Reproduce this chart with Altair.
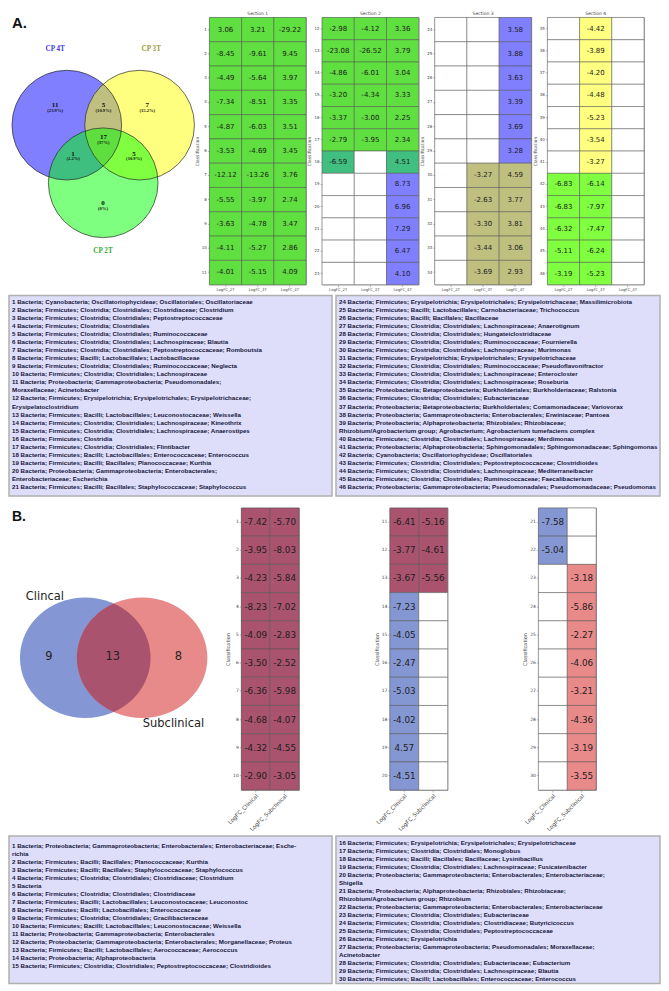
import math
import altair as alt
import pandas as pd

# ============================ DATA ============================
# ---- Panel A : Venn ----
venn_a_sets = ["CP 4T", "CP 3T", "CP 2T"]
venn_a_set_fill = ["#0000ff", "#ffff00", "#00ff00"]
venn_a_label_color = ["#4040e6", "#a09a38", "#36aa36"]
venn_a_regions = ["4T only", "4T & 3T", "3T only", "4T & 3T & 2T", "4T & 2T", "3T & 2T", "2T only"]
venn_a_counts = [11, 5, 7, 17, 1, 5, 0]
venn_a_pcts = ["(23.9%)", "(10.9%)", "(15.2%)", "(37%)", "(2.2%)", "(10.9%)", "(0%)"]

# ---- Panel A : heatmaps (rows 1..46) ----
a_cols = ["LogFC_2T", "LogFC_3T", "LogFC_4T"]
a_sections = ["Section 1", "Section 2", "Section 3", "Section 4"]
a_section_rows = [list(range(1, 12)), list(range(12, 24)), list(range(24, 35)), list(range(35, 47))]
N = None
a_2T = [3.06, -8.45, -4.49, -7.34, -4.87, -3.53, -12.12, -5.55, -3.63, -4.11, -4.01,
        -2.98, -23.08, -4.86, -3.20, -3.37, -2.79, -6.59, N, N, N, N, N,
        N, N, N, N, N, N, N, N, N, N, N,
        N, N, N, N, N, N, N, -6.83, -6.83, -6.32, -5.11, -3.19]
a_3T = [3.21, -9.61, -5.64, -8.51, -6.03, -4.69, -13.26, -3.97, -4.78, -5.27, -5.15,
        -4.12, -26.52, -6.01, -4.34, -3.00, -3.95, N, N, N, N, N, N,
        N, N, N, N, N, N, -3.27, -2.63, -3.30, -3.44, -3.69,
        -4.42, -3.89, -4.20, -4.48, -5.23, -3.54, -3.27, -6.14, -7.97, -7.47, -6.24, -5.23]
a_4T = [-29.22, 9.45, 3.97, 3.35, 3.51, 3.45, 3.76, 2.74, 3.47, 2.86, 4.09,
        3.36, 3.79, 3.04, 3.33, 2.25, 2.34, 4.51, 8.73, 6.96, 7.29, 6.47, 4.10,
        3.58, 3.88, 3.63, 3.39, 3.69, 3.28, 4.59, 3.77, 3.81, 3.06, 2.93,
        N, N, N, N, N, N, N, N, N, N, N, N]
# fill by membership pattern (2T, 3T, 4T present)
a_group_fill = {(1, 1, 1): "#60df40", (1, 0, 1): "#40bf80", (0, 0, 1): "#8080ff",
                (0, 1, 1): "#bfbf80", (0, 1, 0): "#ffff80", (1, 1, 0): "#80ff40"}

# ---- Panel B : Venn ----
venn_b_sets = ["Clincal", "Subclinical"]
venn_b_counts = [9, 13, 8]
venn_b_fill = ["#8497d4", "#e88a8a"]
venn_b_both_fill = "#a9536f"

# ---- Panel B : heatmaps (rows 1..30) ----
b_cols = ["LogFC_Clinical", "LogFC_Subclinical"]
b_section_rows = [list(range(1, 11)), list(range(11, 21)), list(range(21, 31))]
b_clin = [-7.42, -3.95, -4.23, -8.23, -4.09, -3.50, -6.36, -4.68, -4.32, -2.90,
          -6.41, -3.77, -3.67, -7.23, -4.05, -2.47, -5.03, -4.02, 4.57, -4.51,
          -7.58, -5.04, N, N, N, N, N, N, N, N]
b_sub = [-5.70, -8.03, -5.84, -7.02, -2.83, -2.52, -5.98, -4.07, -4.55, -3.05,
         -5.16, -4.61, -5.56, N, N, N, N, N, N, N,
         N, N, -3.18, -5.86, -2.27, -4.06, -3.21, -4.36, -3.19, -3.55]
b_group_fill = {(1, 1): "#a9536f", (1, 0): "#8597d3", (0, 1): "#e98a8a"}

# ---- Legend texts ("\n" marks where the reference wraps) ----
legend_a_left = [
    "1 Bacteria; Cyanobacteria; Oscillatoriophycideae; Oscillatoriales; Oscillatoriaceae",
    "2 Bacteria; Firmicutes; Clostridia; Clostridiales; Clostridiaceae; Clostridium",
    "3 Bacteria; Firmicutes; Clostridia; Clostridiales; Peptostreptococcaceae",
    "4 Bacteria; Firmicutes; Clostridia; Clostridiales",
    "5 Bacteria; Firmicutes; Clostridia; Clostridiales; Ruminococcaceae",
    "6 Bacteria; Firmicutes; Clostridia; Clostridiales; Lachnospiraceae; Blautia",
    "7 Bacteria; Firmicutes; Clostridia; Clostridiales; Peptostreptococcaceae; Romboutsia",
    "8 Bacteria; Firmicutes; Bacilli; Lactobacillales; Lactobacillaceae",
    "9 Bacteria; Firmicutes; Clostridia; Clostridiales; Ruminococcaceae; Neglecta",
    "10 Bacteria; Firmicutes; Clostridia; Clostridiales; Lachnospiraceae",
    "11 Bacteria; Proteobacteria; Gammaproteobacteria; Pseudomonadales;\n Moraxellaceae; Acinetobacter",
    "12 Bacteria; Firmicutes; Erysipelotrichia; Erysipelotrichales; Erysipelotrichaceae;\nErysipelatoclostridium",
    "13 Bacteria; Firmicutes; Bacilli; Lactobacillales; Leuconostocaceae; Weissella",
    "14 Bacteria; Firmicutes; Clostridia; Clostridiales; Lachnospiraceae; Kineothrix",
    "15 Bacteria; Firmicutes; Clostridia; Clostridiales; Lachnospiraceae; Anaerostipes",
    "16 Bacteria; Firmicutes; Clostridia",
    "17 Bacteria; Firmicutes; Clostridia; Clostridiales; Flintibacter",
    "18 Bacteria; Firmicutes; Bacilli; Lactobacillales; Enterococcaceae; Enterococcus",
    "19 Bacteria; Firmicutes; Bacilli; Bacillales; Planococcaceae; Kurthia",
    "20 Bacteria; Proteobacteria; Gammaproteobacteria; Enterobacterales;\nEnterobacteriaceae; Escherichia",
    "21 Bacteria; Firmicutes; Bacilli; Bacillales; Staphylococcaceae; Staphylococcus",
]
legend_a_right = [
    "24 Bacteria; Firmicutes; Erysipelotrichia; Erysipelotrichales; Erysipelotrichaceae; Massilimicrobiota",
    "25 Bacteria; Firmicutes; Bacilli; Lactobacillales; Carnobacteriaceae; Trichococcus",
    "26 Bacteria; Firmicutes; Bacilli; Bacillales; Bacillaceae",
    "27 Bacteria; Firmicutes; Clostridia; Clostridiales; Lachnospiraceae; Anaerotignum",
    "28 Bacteria; Firmicutes; Clostridia; Clostridiales; Hungateiclostridiaceae",
    "29 Bacteria; Firmicutes; Clostridia; Clostridiales; Ruminococcaceae; Fournierella",
    "30 Bacteria; Firmicutes; Clostridia; Clostridiales; Lachnospiraceae; Murimonas",
    "31 Bacteria; Firmicutes; Erysipelotrichia; Erysipelotrichales; Erysipelotrichaceae",
    "32 Bacteria; Firmicutes; Clostridia; Clostridiales; Ruminococcaceae; Pseudoflavonifractor",
    "33 Bacteria; Firmicutes; Clostridia; Clostridiales; Lachnospiraceae; Enterocloster",
    "34 Bacteria; Firmicutes; Clostridia; Clostridiales; Lachnospiraceae; Roseburia",
    "35 Bacteria; Proteobacteria; Betaproteobacteria; Burkholderiales; Burkholderiaceae; Ralstonia",
    "36 Bacteria; Firmicutes; Clostridia; Clostridiales; Eubacteriaceae",
    "37 Bacteria; Proteobacteria; Betaproteobacteria; Burkholderiales; Comamonadaceae; Variovorax",
    "38 Bacteria; Proteobacteria; Gammaproteobacteria; Enterobacterales; Erwiniaceae; Pantoea",
    "39 Bacteria; Proteobacteria; Alphaproteobacteria; Rhizobiales; Rhizobiaceae;\nRhizobium/Agrobacterium group; Agrobacterium; Agrobacterium tumefaciens complex",
    "40 Bacteria; Firmicutes; Clostridia; Clostridiales; Lachnospiraceae; Merdimonas",
    "41 Bacteria; Proteobacteria; Alphaproteobacteria; Sphingomonadales; Sphingomonadaceae; Sphingomonas",
    "42 Bacteria; Cyanobacteria; Oscillatoriophycideae; Oscillatoriales",
    "43 Bacteria; Firmicutes; Clostridia; Clostridiales; Peptostreptococcaceae; Clostridioides",
    "44 Bacteria; Firmicutes; Clostridia; Clostridiales; Lachnospiraceae; Mediterraneibacter",
    "45 Bacteria; Firmicutes; Clostridia; Clostridiales; Ruminococcaceae; Faecalibacterium",
    "46 Bacteria; Proteobacteria; Gammaproteobacteria; Pseudomonadales; Pseudomonadaceae; Pseudomonas",
]
legend_b_left = [
    "1 Bacteria; Proteobacteria; Gammaproteobacteria; Enterobacterales; Enterobacteriaceae; Esche-\nrichia",
    "2 Bacteria; Firmicutes; Bacilli; Bacillales; Planococcaceae; Kurthia",
    "3 Bacteria; Firmicutes; Bacilli; Bacillales; Staphylococcaceae; Staphylococcus",
    "4 Bacteria; Firmicutes; Clostridia; Clostridiales; Clostridiaceae; Clostridium",
    "5 Bacteria",
    "6 Bacteria; Firmicutes; Clostridia; Clostridiales; Clostridiaceae",
    "7 Bacteria; Firmicutes; Bacilli; Lactobacillales; Leuconostocaceae; Leuconostoc",
    "8 Bacteria; Firmicutes; Bacilli; Lactobacillales; Enterococcaceae",
    "9 Bacteria; Firmicutes; Clostridia; Clostridiales; Gracilibacteraceae",
    "10 Bacteria; Firmicutes; Bacilli; Lactobacillales; Leuconostocaceae; Weissella",
    "11 Bacteria; Proteobacteria; Gammaproteobacteria; Enterobacterales",
    "12 Bacteria; Proteobacteria; Gammaproteobacteria; Enterobacterales; Morganellaceae; Proteus",
    "13 Bacteria; Firmicutes; Bacilli; Lactobacillales; Aerococcaceae; Aerococcus",
    "14 Bacteria; Proteobacteria; Alphaproteobacteria",
    "15 Bacteria; Firmicutes; Clostridia; Clostridiales; Peptostreptococcaceae; Clostridioides",
]
legend_b_right = [
    "16 Bacteria; Firmicutes; Erysipelotrichia; Erysipelotrichales; Erysipelotrichaceae",
    "17 Bacteria; Firmicutes; Clostridia; Clostridiales; Monoglobus",
    "18 Bacteria; Firmicutes; Bacilli; Bacillales; Bacillaceae; Lysinibacillus",
    "19 Bacteria; Firmicutes; Clostridia; Clostridiales; Lachnospiraceae; Fusicatenibacter",
    "20 Bacteria; Proteobacteria; Gammaproteobacteria; Enterobacterales; Enterobacteriaceae;\nShigella",
    "21 Bacteria; Proteobacteria; Alphaproteobacteria; Rhizobiales; Rhizobiaceae;\nRhizobium/Agrobacterium group; Rhizobium",
    "22 Bacteria; Proteobacteria; Gammaproteobacteria; Enterobacterales; Enterobacteriaceae",
    "23 Bacteria; Firmicutes; Clostridia; Clostridiales; Eubacteriaceae",
    "24 Bacteria; Firmicutes; Clostridia; Clostridiales; Clostridiaceae; Butyricicoccus",
    "25 Bacteria; Firmicutes; Clostridia; Clostridiales; Peptostreptococcaceae",
    "26 Bacteria; Firmicutes; Erysipelotrichia",
    "27 Bacteria; Proteobacteria; Gammaproteobacteria; Pseudomonadales; Moraxellaceae;\nAcinetobacter",
    "28 Bacteria; Firmicutes; Clostridia; Clostridiales; Eubacteriaceae; Eubacterium",
    "29 Bacteria; Firmicutes; Clostridia; Clostridiales; Lachnospiraceae; Blautia",
    "30 Bacteria; Firmicutes; Bacilli; Lactobacillales; Enterococcaceae; Enterococcus",
]

# ============================ LAYOUT / STYLE ============================
F_NUM = "DejaVu Sans"
F_BOX = "Liberation Sans"
F_SERIF = "Liberation Serif"
BOX_FILL, BOX_STROKE, BOX_TEXT = "#dedefa", "#b0b0b0", "#16163a"

HA, SEC_W = 268, 97          # panel A heatmaps
HB, BSEC_W = 283, 58          # panel B heatmaps
VA_W, VB_W = 185, 142         # venn panel widths
BOXA_H, BOXB_H = 201, 148
BOX_LW, BOX_RW = 324, 325
BOX_FS = 6.2

# Venn A geometry (panel px)
VA_R = 55
va_cx = [58, 131, 94.5]
va_cy = [108, 108, 165.8]
va_label_xy = [(46.3, 31.8), (142.7, 31.8), (94.3, 234.3)]
va_region_xy = [(46.3, 88), (94.7, 88), (138.7, 88), (94.7, 120.2),
                (64.3, 136.6), (125.3, 136.6), (94.3, 186)]
# Venn B geometry (panel px): slightly elliptical sets
VB_RX, VB_RY = 65.5, 60.5
vb_cx = [76.5, 133.5]
vb_cy = 150.3
vb_label_xy = [(36, 89.5), (165, 216.5)]
vb_region_xy = [(40, 149.3), (104, 149.3), (170, 149.3)]


# ============================ BUILD ============================
def long_table(cols, series, group_fill):
    recs = []
    n = len(series[0])
    for i in range(n):
        pattern = tuple(int(s[i] is not None) for s in series)
        f = group_fill[pattern]
        for c, s in zip(cols, series):
            v = s[i]
            recs.append({"row": i + 1, "col": c, "value": v,
                         "fill": f if v is not None else "#ffffff"})
    return pd.DataFrame(recs)


dfA = long_table(a_cols, [a_2T, a_3T, a_4T], a_group_fill)
dfB = long_table(b_cols, [b_clin, b_sub], b_group_fill)


def yaxis(label_fs, title_fs):
    return alt.Axis(title="Classification", titleFontSize=title_fs, titleFontWeight="normal",
                    titleColor="#444", titleFont=F_NUM, titlePadding=2,
                    labelFontSize=label_fs, labelColor="#444", labelFont=F_NUM, labelPadding=1,
                    labelAngle=0, tickSize=2, tickWidth=0.5, tickColor="#777", domain=False)


def xaxis(label_fs, angle):
    return alt.Axis(title=None, labelFontSize=label_fs, labelColor="#444", labelFont=F_NUM,
                    labelPadding=1, labelAngle=angle, tickSize=2, tickWidth=0.5,
                    tickColor="#777", domain=False)


def heat(df, rows, cols, w, h, fs, xa, ya, title=None):
    sub = df[df["row"].isin(rows)]
    x = alt.X("col:N", scale=alt.Scale(domain=cols), axis=xa)
    y = alt.Y("row:O", scale=alt.Scale(domain=rows), axis=ya)
    base = alt.Chart(sub)
    rect = base.mark_rect(stroke="#4f4f4f", strokeWidth=0.5).encode(
        x=x, y=y, fill=alt.Fill("fill:N", scale=None))
    txt = base.transform_filter("isValid(datum.value)").transform_calculate(
        label="replace(format(datum.value, '.2f'), '\u2212', '-')"
    ).mark_text(font=F_NUM, fontSize=fs, color="#1e1e1e").encode(
        x=x, y=y, text="label:N")
    ch = alt.layer(rect, txt).properties(width=w, height=h)
    if title is not None:
        ch = ch.properties(title=alt.TitleParams(title, fontSize=4.5, fontWeight="normal",
                                                 color="#444", font=F_NUM, offset=2))
    return ch


def text_box(entries, w, h, first, step):
    lines = []
    for e in entries:
        lines.extend(e.split("\n"))
    df = pd.DataFrame({"line": lines, "i": list(range(len(lines)))})
    return alt.Chart(df).mark_text(
        align="left", baseline="middle", font=F_BOX, fontSize=BOX_FS,
        fontWeight="bold", color=BOX_TEXT).encode(
        x=alt.value(3),
        y=alt.Y("i:Q", axis=None,
                scale=alt.Scale(domain=[-first / step, (h - first) / step],
                                reverse=True, nice=False, zero=False)),
        text="line:N",
    ).properties(width=w, height=h,
                 view=alt.ViewBackground(fill=BOX_FILL, stroke=BOX_STROKE, strokeWidth=1.5))


# ---------- Venn A ----------
xsA = alt.Scale(domain=[0, VA_W], nice=False, zero=False)
ysA = alt.Scale(domain=[0, HA], nice=False, zero=False, reverse=True)
circA = pd.DataFrame({"set": venn_a_sets, "fill": venn_a_set_fill, "lc": venn_a_label_color,
                      "cx": va_cx, "cy": va_cy,
                      "lx": [p[0] for p in va_label_xy], "ly": [p[1] for p in va_label_xy]})
regA = pd.DataFrame({"region": venn_a_regions, "count": venn_a_counts, "pct": venn_a_pcts,
                     "x": [p[0] for p in va_region_xy], "y": [p[1] for p in va_region_xy]})
regA["y2"] = regA["y"] + 5.8
sizeA = (2 * VA_R) ** 2

vA_fill = alt.Chart(circA).mark_point(shape="circle", filled=True, size=sizeA, opacity=1,
                                      fillOpacity=0.5, strokeOpacity=0).encode(
    x=alt.X("cx:Q", scale=xsA, axis=None), y=alt.Y("cy:Q", scale=ysA, axis=None),
    fill=alt.Fill("fill:N", scale=None))
vA_line = alt.Chart(circA).mark_point(shape="circle", filled=False, size=sizeA, opacity=1,
                                      stroke="#2a2a2a", strokeWidth=0.7).encode(
    x=alt.X("cx:Q", scale=xsA, axis=None), y=alt.Y("cy:Q", scale=ysA, axis=None))
vA_lab = alt.Chart(circA).mark_text(font=F_SERIF, fontSize=7.2, fontWeight="bold").encode(
    x=alt.X("lx:Q", scale=xsA, axis=None), y=alt.Y("ly:Q", scale=ysA, axis=None),
    text="set:N", color=alt.Color("lc:N", scale=None))
vA_cnt = alt.Chart(regA).mark_text(font=F_SERIF, fontSize=7, fontWeight="bold", color="#111").encode(
    x=alt.X("x:Q", scale=xsA, axis=None), y=alt.Y("y:Q", scale=ysA, axis=None), text="count:Q")
vA_pct = alt.Chart(regA).mark_text(font=F_SERIF, fontSize=4.6, fontWeight="bold", color="#111").encode(
    x=alt.X("x:Q", scale=xsA, axis=None), y=alt.Y("y2:Q", scale=ysA, axis=None), text="pct:N")
vA_tag = alt.Chart(pd.DataFrame({"t": ["A."], "x": [3], "y": [6]})).mark_text(
    font=F_BOX, fontSize=15, fontWeight="bold", align="left", color="#111").encode(
    x=alt.X("x:Q", scale=xsA, axis=None), y=alt.Y("y:Q", scale=ysA, axis=None), text="t:N")
vennA = alt.layer(vA_fill, vA_line, vA_lab, vA_cnt, vA_pct, vA_tag).properties(
    width=VA_W, height=HA, view=alt.ViewBackground(stroke="transparent"))

# ---------- Venn B ----------
xsB = alt.Scale(domain=[0, VB_W], nice=False, zero=False)
ysB = alt.Scale(domain=[0, HB], nice=False, zero=False, reverse=True)
circB = pd.DataFrame({"set": venn_b_sets, "fill": venn_b_fill, "cx": vb_cx, "cy": [vb_cy, vb_cy],
                      "lx": [p[0] for p in vb_label_xy], "ly": [p[1] for p in vb_label_xy]})
regB = pd.DataFrame({"count": venn_b_counts,
                     "x": [p[0] for p in vb_region_xy], "y": [p[1] for p in vb_region_xy]})
sizeB = (2 * VB_RX) ** 2
k = VB_RY / VB_RX
half_d = (vb_cx[1] - vb_cx[0]) / 2 / VB_RX
hr = k * math.sqrt(1 - half_d ** 2)
ellipse_path = f"M-1,0A1,{k:.4f},0,1,1,1,0A1,{k:.4f},0,1,1,-1,0Z"
lens_path = f"M0,{-hr:.4f}A1,{k:.4f},0,0,1,0,{hr:.4f}A1,{k:.4f},0,0,1,0,{-hr:.4f}Z"
lensB = pd.DataFrame({"cx": [(vb_cx[0] + vb_cx[1]) / 2], "cy": [vb_cy]})

vB_fill = alt.Chart(circB).mark_point(shape=ellipse_path, filled=True, size=sizeB, opacity=1,
                                      strokeOpacity=0).encode(
    x=alt.X("cx:Q", scale=xsB, axis=None), y=alt.Y("cy:Q", scale=ysB, axis=None),
    fill=alt.Fill("fill:N", scale=None))
vB_lens = alt.Chart(lensB).mark_point(shape=lens_path, filled=True, size=sizeB, opacity=1,
                                      fill=venn_b_both_fill, strokeOpacity=0).encode(
    x=alt.X("cx:Q", scale=xsB, axis=None), y=alt.Y("cy:Q", scale=ysB, axis=None))
vB_lab = alt.Chart(circB).mark_text(font=F_NUM, fontSize=11.5, color="#222").encode(
    x=alt.X("lx:Q", scale=xsB, axis=None), y=alt.Y("ly:Q", scale=ysB, axis=None), text="set:N")
vB_cnt = alt.Chart(regB).mark_text(font=F_NUM, fontSize=11.5, color="#222").encode(
    x=alt.X("x:Q", scale=xsB, axis=None), y=alt.Y("y:Q", scale=ysB, axis=None), text="count:Q")
vB_tag = alt.Chart(pd.DataFrame({"t": ["B."], "x": [3], "y": [9]})).mark_text(
    font=F_BOX, fontSize=14, fontWeight="bold", align="left", color="#111").encode(
    x=alt.X("x:Q", scale=xsB, axis=None), y=alt.Y("y:Q", scale=ysB, axis=None), text="t:N")
# invisible spacer above the panel to widen the gap to the legend box above
vB_pad = alt.Chart(pd.DataFrame({"t": ["B"], "x": [3], "y": [-8]})).mark_text(
    fontSize=6, baseline="top", opacity=0).encode(
    x=alt.X("x:Q", scale=xsB, axis=None), y=alt.Y("y:Q", scale=ysB, axis=None), text="t:N")
vennB = alt.layer(vB_fill, vB_lens, vB_lab, vB_cnt, vB_tag, vB_pad).properties(
    width=VB_W, height=HB, view=alt.ViewBackground(stroke="transparent"))

# ---------- heatmaps ----------
secA = [heat(dfA, rows, a_cols, SEC_W, HA, 7, xaxis(3.8, 0), yaxis(4, 4.5), title=t)
        for rows, t in zip(a_section_rows, a_sections)]
secB = [heat(dfB, rows, b_cols, BSEC_W, HB, 8.8, xaxis(5.6, 315), yaxis(4.5, 5))
        for rows in b_section_rows]

rowA = alt.hconcat(vennA, *secA, spacing=16, bounds="flush")
boxA = alt.hconcat(text_box(legend_a_left, BOX_LW, BOXA_H, 6, 8.1),
                   text_box(legend_a_right, BOX_RW, BOXA_H, 6, 8.1),
                   spacing=4, bounds="flush")
rowB = alt.hconcat(vennB, *secB, spacing=91, bounds="flush")
boxB = alt.hconcat(text_box(legend_b_left, BOX_LW, BOXB_H, 10, 8.0),
                   text_box(legend_b_right, BOX_RW, BOXB_H, 7, 8.0),
                   spacing=4, bounds="flush")

chart = alt.vconcat(rowA, boxA, rowB, boxB, spacing=2).properties(
    padding=0
).configure(background="white").configure_view(stroke="#8a8a8a", strokeWidth=0.8)

chart.save("out.html", embed_options={"renderer": "svg", "actions": False})
